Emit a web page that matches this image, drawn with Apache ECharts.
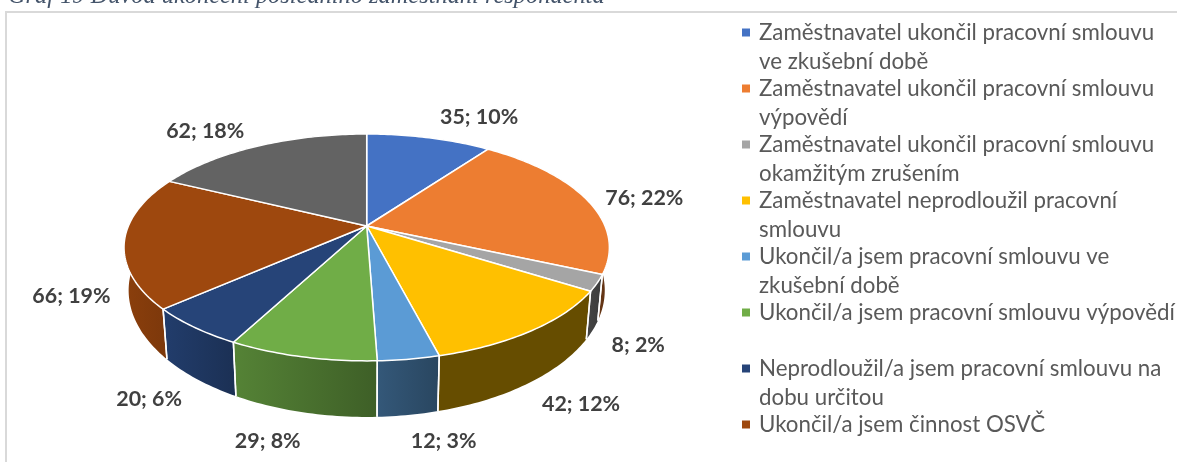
<!DOCTYPE html>
<html>
<head>
<meta charset="utf-8">
<style>html,body{margin:0;padding:0;background:#fff}#c{width:1177px;height:462px}</style>
<script src="https://cdn.jsdelivr.net/npm/echarts@6/dist/echarts.min.js"></script>
</head>
<body>
<div id="c"></div>
<script>
var titleText = 'Graf 19 Důvod ukončení posledního zaměstnání respondenta';
var categories = [
  'Zaměstnavatel ukončil pracovní smlouvu\nve zkušební době',
  'Zaměstnavatel ukončil pracovní smlouvu\nvýpovědí',
  'Zaměstnavatel ukončil pracovní smlouvu\nokamžitým zrušením',
  'Zaměstnavatel neprodloužil pracovní\nsmlouvu',
  'Ukončil/a jsem pracovní smlouvu ve\nzkušební době',
  'Ukončil/a jsem pracovní smlouvu výpovědí\n ',
  'Neprodloužil/a jsem pracovní smlouvu na\ndobu určitou',
  'Ukončil/a jsem činnost OSVČ',
  'Jiné'
];
var values = [35, 76, 8, 42, 12, 29, 20, 66, 62];
var colors = ['#4472C4', '#ED7D31', '#A5A5A5', '#FFC000', '#5B9BD5', '#70AD47', '#264478', '#9E480E', '#636363'];
var wallShadeLeft = [0.45, 0.45, 0.42, 0.40, 0.57, 0.76, 0.90, 0.88, 0.45];
var wallShadeRight = [0.45, 0.42, 0.36, 0.40, 0.45, 0.55, 0.70, 0.77, 0.45];
var labelNudges = [[50,-21],[58,-1],[41,62],[49,73.5],[35,82],[-34,84],[-45,72],[-53,55],[-53,-15]];

// perspective disc: top face and bottom face of the pie
var CX = 366.7, CY = 226, A = 238.3, B = 109.4, K = 0.189;
var BOTTOM_X = 0.981, BOTTOM_Y = 1.115, BOTTOM_CY = 266.5;
var total = values.reduce(function (s, v) { return s + v; }, 0);

function topPoint(deg) {
  var r = deg * Math.PI / 180, X = Math.sin(r), Y = Math.cos(r), w = 1 + K * Y;
  return [CX + A * X / w, CY - B * Y / w];
}
function bottomPoint(deg) {
  var p = topPoint(deg);
  return [CX + (p[0] - CX) * BOTTOM_X, BOTTOM_CY + (p[1] - CY) * BOTTOM_Y];
}
function arc(fn, a, b) {
  var pts = [], n = Math.max(2, Math.ceil(b - a));
  for (var i = 0; i <= n; i++) pts.push(fn(a + (b - a) * i / n));
  return pts;
}
function shade(hex, f) {
  var n = parseInt(hex.slice(1), 16);
  var c = [(n >> 16) & 255, (n >> 8) & 255, n & 255].map(function (v) { return Math.round(v * f); });
  return 'rgb(' + c.join(',') + ')';
}
function startValue(i) {
  var s = 0;
  for (var j = 0; j < i; j++) s += values[j];
  return s;
}

function makeRender(i) {
  return function (params, api) {
    var v = api.value(0);
    var a0 = startValue(i) / total * 360, a1 = a0 + v / total * 360, mid = (a0 + a1) / 2;
    var topArc = arc(topPoint, a0, a1);
    var wall = topArc.concat(arc(bottomPoint, a0, a1).reverse());
    var edge = topPoint(mid);
    var wallZ = 10 + Math.round((1 - Math.cos(mid * Math.PI / 180)) * 20);
    var seam = { stroke: '#fff', lineWidth: 1.5 };
    return {
      type: 'group',
      children: [
        {
          type: 'polygon',
          z2: wallZ,
          shape: { points: wall },
          style: {
            fill: new echarts.graphic.LinearGradient(0, 0, 1, 0, [
              { offset: 0, color: shade(colors[i], wallShadeLeft[i]) },
              { offset: 1, color: shade(colors[i], wallShadeRight[i]) }
            ])
          }
        },
        { type: 'polyline', z2: 60, shape: { points: [topPoint(a0), bottomPoint(a0)] }, style: seam },
        { type: 'polyline', z2: 60, shape: { points: [topPoint(a1), bottomPoint(a1)] }, style: seam },
        {
          type: 'polygon',
          z2: 100,
          shape: { points: [[CX, CY]].concat(topArc) },
          style: { fill: colors[i], stroke: '#fff', lineWidth: 1.5, lineJoin: 'round' }
        },
        {
          type: 'text',
          z2: 200,
          x: edge[0] + labelNudges[i][0],
          y: edge[1] + labelNudges[i][1],
          style: {
            text: v + '; ' + Math.round(v / total * 100) + '%',
            fill: '#404040',
            font: 'bold 21.4px Lato',
            align: 'center',
            verticalAlign: 'middle'
          }
        }
      ]
    };
  };
}

var rich = {
  t: { fontFamily: 'Lato', fontSize: 22.3, color: '#595959', lineHeight: 29 },
  g: { width: 9, height: 8, lineHeight: 29 },
  p: { width: 17, height: 8, lineHeight: 29 }
};
colors.forEach(function (c, i) {
  rich['m' + i] = { width: 8, height: 8, backgroundColor: c, lineHeight: 29 };
});

var chart = echarts.init(document.getElementById('c'), null, { renderer: 'canvas' });
chart.setOption({
  animation: false,
  backgroundColor: '#fff',
  title: {
    text: titleText, left: 8, top: -15, padding: 0,
    textStyle: { fontFamily: 'Liberation Serif', fontStyle: 'italic', fontWeight: 'normal', fontSize: 24.4, color: '#44546A' }
  },
  legend: {
    orient: 'vertical', left: 736, top: 18, height: 450, padding: 0,
    itemGap: -2, itemWidth: 1, itemHeight: 8, icon: 'none', selectedMode: false,
    data: categories.slice(0, 8),
    textStyle: { rich: rich, fontFamily: 'Lato', fontSize: 22.3, lineHeight: 29 },
    formatter: function (name) {
      var i = categories.indexOf(name), parts = name.split('\n');
      var s = '{m' + i + '| }{g| }{t|' + parts[0] + '}';
      if (parts.length > 1) s += '\n{p| }{t|' + parts[1] + '}';
      return s;
    }
  },
  graphic: [{
    type: 'polyline', silent: true,
    shape: { points: [[6, 462], [6, 12], [1177, 12]] },
    style: { stroke: '#d9d9d9', lineWidth: 2, fill: 'none' }
  }],
  series: categories.map(function (name, i) {
    return {
      type: 'custom', name: name, coordinateSystem: 'none', silent: true,
      itemStyle: { color: colors[i] },
      data: [[values[i]]],
      renderItem: makeRender(i)
    };
  })
});
</script>
</body>
</html>
